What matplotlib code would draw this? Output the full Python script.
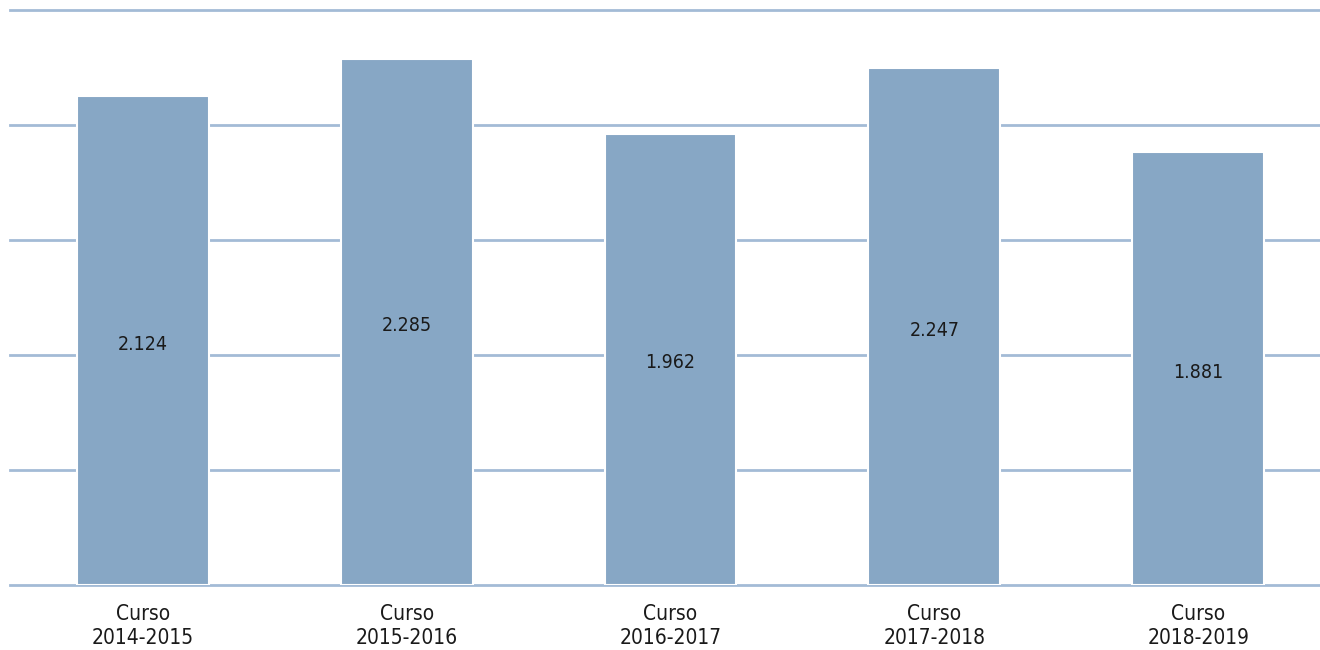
import matplotlib
matplotlib.use('Agg')
import matplotlib.pyplot as plt
import numpy as np

plt.rcParams['font.family'] = ['DejaVu Sans']
plt.rcParams['font.stretch'] = 'condensed'

# Data
cursos = ['Curso\n2014-2015', 'Curso\n2015-2016', 'Curso\n2016-2017',
          'Curso\n2017-2018', 'Curso\n2018-2019']
valores = [2124, 2285, 1962, 2247, 1881]
etiquetas = ['2.124', '2.285', '1.962', '2.247', '1.881']
grid_vals = np.arange(0, 2501, 500)

bar_color = '#87a7c5'
grid_color = '#a3bbd6'

fig = plt.figure(figsize=(13.2, 6.5), dpi=100)
ax = fig.add_axes([10 / 1320, 0.1, 1310 / 1320, 575 / 650])

x = np.arange(len(cursos))
bars = ax.bar(x, valores, width=0.5, color=bar_color, edgecolor='white',
              linewidth=1.5, zorder=3)

for b, lab in zip(bars, etiquetas):
    ax.text(b.get_x() + b.get_width() / 2, b.get_height() / 2 - 15, lab,
            ha='center', va='center', fontsize=14, color='#1a1a1a',
            fontstretch='condensed', zorder=4)

for g in grid_vals:
    ax.axhline(g, color=grid_color, linewidth=2, zorder=0, clip_on=False)

ax.set_ylim(0, 2500)
ax.set_xlim(-0.504, 4.462)
ax.set_yticks([])
ax.tick_params(axis='x', length=0, pad=14, labelsize=15)
ax.set_xticks(x)
ax.set_xticklabels(cursos, color='#1a1a1a', linespacing=1.2,
                   fontstretch='condensed')
for s in ax.spines.values():
    s.set_visible(False)

fig.savefig('out.png', dpi=100)
